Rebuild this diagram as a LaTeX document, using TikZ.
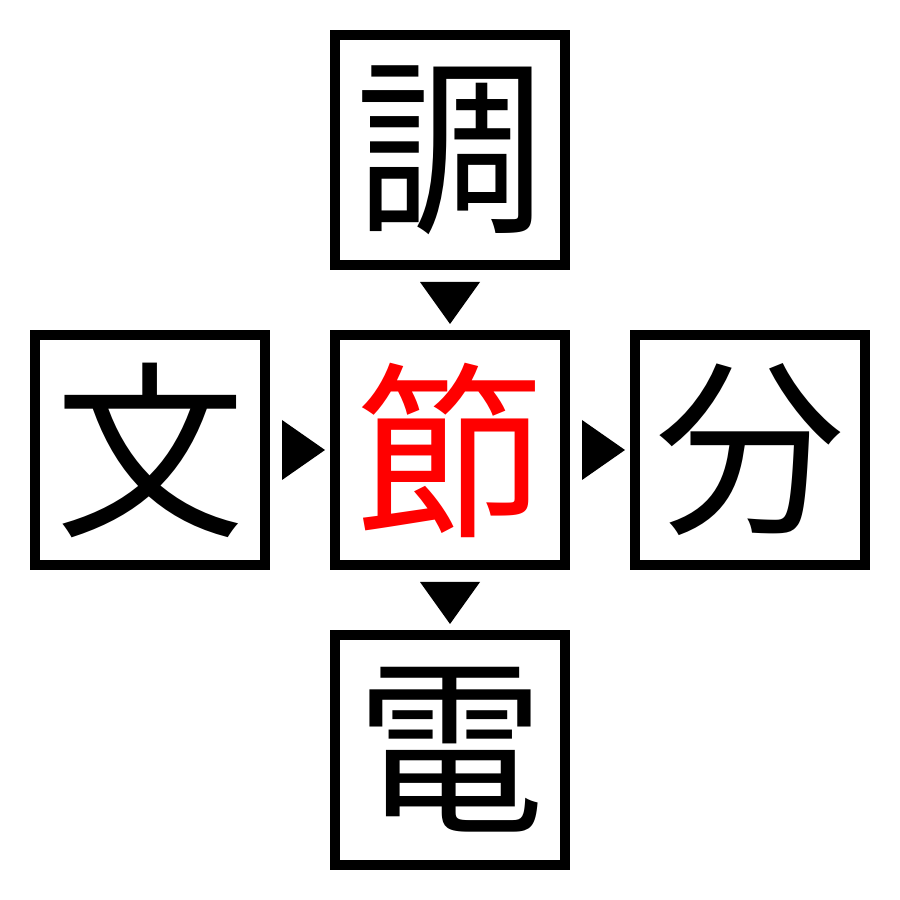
\documentclass[tikz,border=0pt]{standalone}
\usepackage{fontspec}
\newfontfamily\cjk{Noto Sans CJK JP}
\usetikzlibrary{calc}
\begin{document}
\begin{tikzpicture}[
  box/.style={draw=black, line width=0.1cm, minimum size=2.3cm, inner sep=0pt,
    font=\cjk\fontsize{54}{54}\selectfont},
  tri/.style={fill=black}
]
\useasboundingbox (0,0) rectangle (9,9);
\node[box] (top) at (4.5,7.5) {調};
\node[box] (left) at (1.5,4.5) {文};
\node[box, text=red] (mid) at (4.5,4.5) {節};
\node[box] (right) at (7.5,4.5) {分};
\node[box] (bot) at (4.5,1.5) {電};
% arrows
\fill[tri] ($(top.south)+(-0.3,-0.12)$) -- ($(top.south)+(0.3,-0.12)$) -- ($(mid.north)+(0,0.06)$) -- cycle;
\fill[tri] ($(mid.south)+(-0.3,-0.12)$) -- ($(mid.south)+(0.3,-0.12)$) -- ($(bot.north)+(0,0.06)$) -- cycle;
\fill[tri] ($(left.east)+(0.12,0.3)$) -- ($(left.east)+(0.12,-0.3)$) -- ($(mid.west)+(-0.05,0)$) -- cycle;
\fill[tri] ($(mid.east)+(0.12,0.3)$) -- ($(mid.east)+(0.12,-0.3)$) -- ($(right.west)+(-0.05,0)$) -- cycle;
\end{tikzpicture}
\end{document}
